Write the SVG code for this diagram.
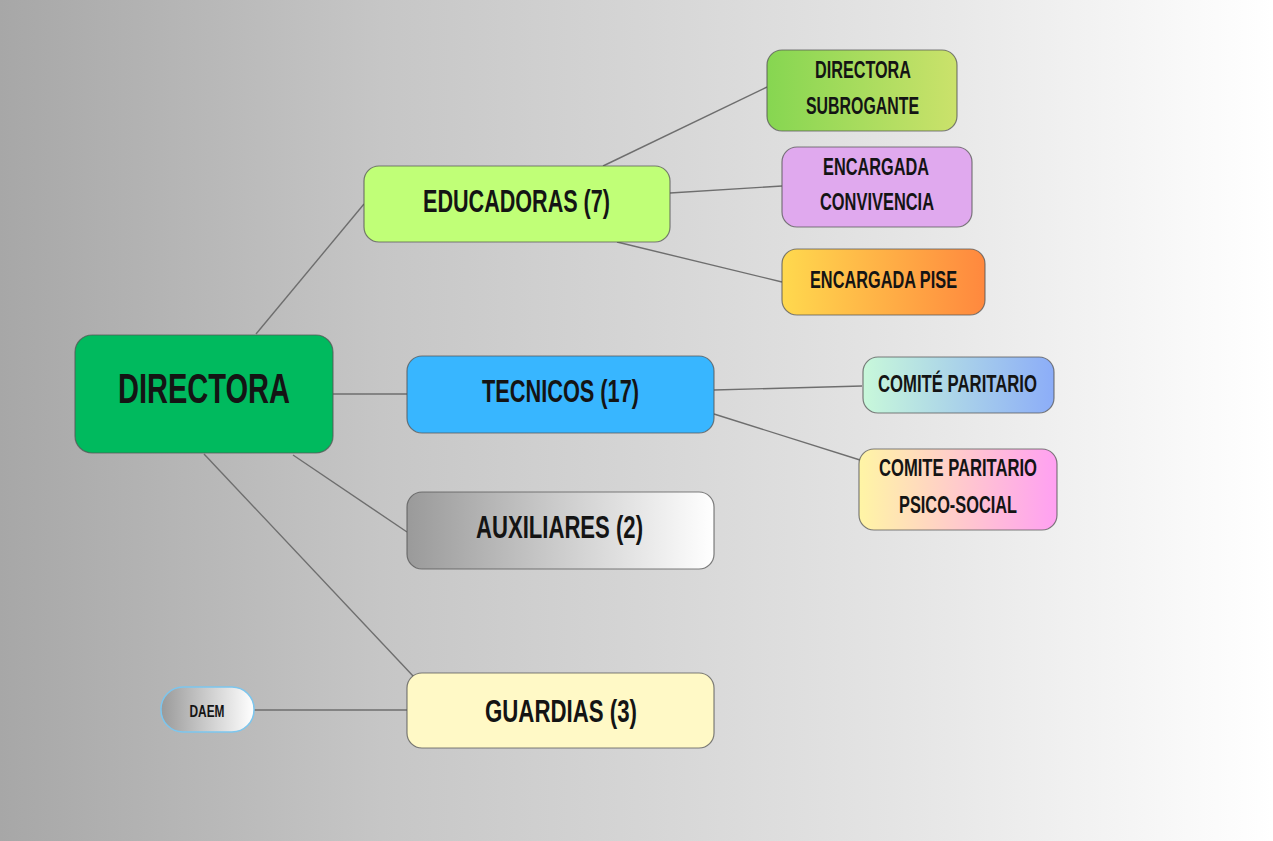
<svg xmlns="http://www.w3.org/2000/svg" width="1273" height="841" viewBox="0 0 1273 841">
<defs>
<linearGradient id="bg" x1="0" y1="0" x2="1" y2="0">
<stop offset="0" stop-color="#a7a7a7"/>
<stop offset="0.3" stop-color="#c6c6c6"/>
<stop offset="0.7" stop-color="#e4e4e4"/>
<stop offset="1" stop-color="#ffffff"/>
</linearGradient>
<linearGradient id="gGrey" x1="0" y1="0" x2="1" y2="0">
<stop offset="0" stop-color="#9a9a9a"/>
<stop offset="1" stop-color="#ffffff"/>
</linearGradient>
<linearGradient id="gSub" x1="0" y1="0" x2="1" y2="0">
<stop offset="0" stop-color="#86d651"/>
<stop offset="1" stop-color="#cbe26b"/>
</linearGradient>
<linearGradient id="gPise" x1="0" y1="0" x2="1" y2="0">
<stop offset="0" stop-color="#ffd94e"/>
<stop offset="1" stop-color="#ff883e"/>
</linearGradient>
<linearGradient id="gCom" x1="0" y1="0" x2="1" y2="0">
<stop offset="0" stop-color="#c8f8da"/>
<stop offset="1" stop-color="#8cadf8"/>
</linearGradient>
<linearGradient id="gPsi" x1="0" y1="0" x2="1" y2="0">
<stop offset="0" stop-color="#fff5a5"/>
<stop offset="1" stop-color="#ffa0f2"/>
</linearGradient>
<style>
.n{stroke:#555;stroke-opacity:0.75;stroke-width:1.2}
.t{font-family:"Liberation Sans",Arial,sans-serif;font-weight:bold;fill:#141414;text-anchor:middle}
.c{stroke:#6e6e6e;stroke-width:1.4;fill:none}
</style>
</defs>
<rect x="0" y="0" width="1273" height="841" fill="url(#bg)"/>
<g id="connectors">
<line class="c" x1="256" y1="334" x2="364" y2="204"/>
<line class="c" x1="333" y1="394" x2="407" y2="394"/>
<line class="c" x1="293" y1="455" x2="407" y2="532"/>
<line class="c" x1="204" y1="454" x2="414" y2="677"/>
<line class="c" x1="603" y1="166" x2="767" y2="87"/>
<line class="c" x1="670" y1="193" x2="782" y2="186"/>
<line class="c" x1="617" y1="242" x2="782" y2="282"/>
<line class="c" x1="714" y1="390" x2="862" y2="386"/>
<line class="c" x1="714" y1="414" x2="860" y2="460"/>
<line class="c" x1="254" y1="710" x2="407" y2="710"/>
</g>
<g id="directora">
<rect class="n" x="75" y="335" width="258" height="118" rx="17" fill="#00ba5e"/>
<text class="t" x="204" y="403" font-size="42" textLength="172" lengthAdjust="spacingAndGlyphs">DIRECTORA</text>
</g>
<g id="educadoras">
<rect class="n" x="364" y="166" width="306" height="76" rx="15" fill="#c0ff77"/>
<text class="t" x="516.5" y="212" font-size="31" textLength="187" lengthAdjust="spacingAndGlyphs">EDUCADORAS (7)</text>
</g>
<g id="tecnicos">
<rect class="n" x="407" y="356" width="307" height="77" rx="15" fill="#38b6ff"/>
<text class="t" x="560.5" y="402" font-size="32" textLength="157" lengthAdjust="spacingAndGlyphs">TECNICOS (17)</text>
</g>
<g id="auxiliares">
<rect class="n" x="407" y="492" width="307" height="77" rx="15" fill="url(#gGrey)"/>
<text class="t" x="559.5" y="538" font-size="32" textLength="167" lengthAdjust="spacingAndGlyphs">AUXILIARES (2)</text>
</g>
<g id="guardias">
<rect class="n" x="407" y="673" width="307" height="75" rx="15" fill="#fff9c6"/>
<text class="t" x="561" y="722" font-size="32" textLength="152" lengthAdjust="spacingAndGlyphs">GUARDIAS (3)</text>
</g>
<g id="daem">
<rect x="161" y="687" width="93" height="45" rx="22" fill="url(#gGrey)" stroke="#7cc6ee" stroke-width="1.5"/>
<text class="t" x="207" y="717" font-size="16" textLength="35" lengthAdjust="spacingAndGlyphs">DAEM</text>
</g>
<g id="directora-subrogante">
<rect class="n" x="767" y="50" width="190" height="81" rx="15" fill="url(#gSub)"/>
<text class="t" x="863" y="77.5" font-size="23" textLength="96" lengthAdjust="spacingAndGlyphs">DIRECTORA</text>
<text class="t" x="862.5" y="113.5" font-size="23" textLength="113" lengthAdjust="spacingAndGlyphs">SUBROGANTE</text>
</g>
<g id="encargada-convivencia">
<rect class="n" x="782" y="147" width="190" height="80" rx="15" fill="#e0a9ee"/>
<text class="t" x="876" y="175" font-size="23" textLength="106" lengthAdjust="spacingAndGlyphs">ENCARGADA</text>
<text class="t" x="877" y="210" font-size="23" textLength="114" lengthAdjust="spacingAndGlyphs">CONVIVENCIA</text>
</g>
<g id="encargada-pise">
<rect class="n" x="782" y="249" width="203" height="66" rx="15" fill="url(#gPise)"/>
<text class="t" x="883.5" y="288" font-size="24" textLength="147" lengthAdjust="spacingAndGlyphs">ENCARGADA PISE</text>
</g>
<g id="comite-paritario">
<rect class="n" x="863" y="357" width="191" height="56" rx="15" fill="url(#gCom)"/>
<text class="t" x="957.5" y="391.5" font-size="23" textLength="159" lengthAdjust="spacingAndGlyphs">COMITÉ PARITARIO</text>
</g>
<g id="comite-psicosocial">
<rect class="n" x="859" y="449" width="198" height="81" rx="15" fill="url(#gPsi)"/>
<text class="t" x="958" y="476" font-size="23" textLength="158" lengthAdjust="spacingAndGlyphs">COMITE PARITARIO</text>
<text class="t" x="958" y="513" font-size="23" textLength="118" lengthAdjust="spacingAndGlyphs">PSICO-SOCIAL</text>
</g>
</svg>
